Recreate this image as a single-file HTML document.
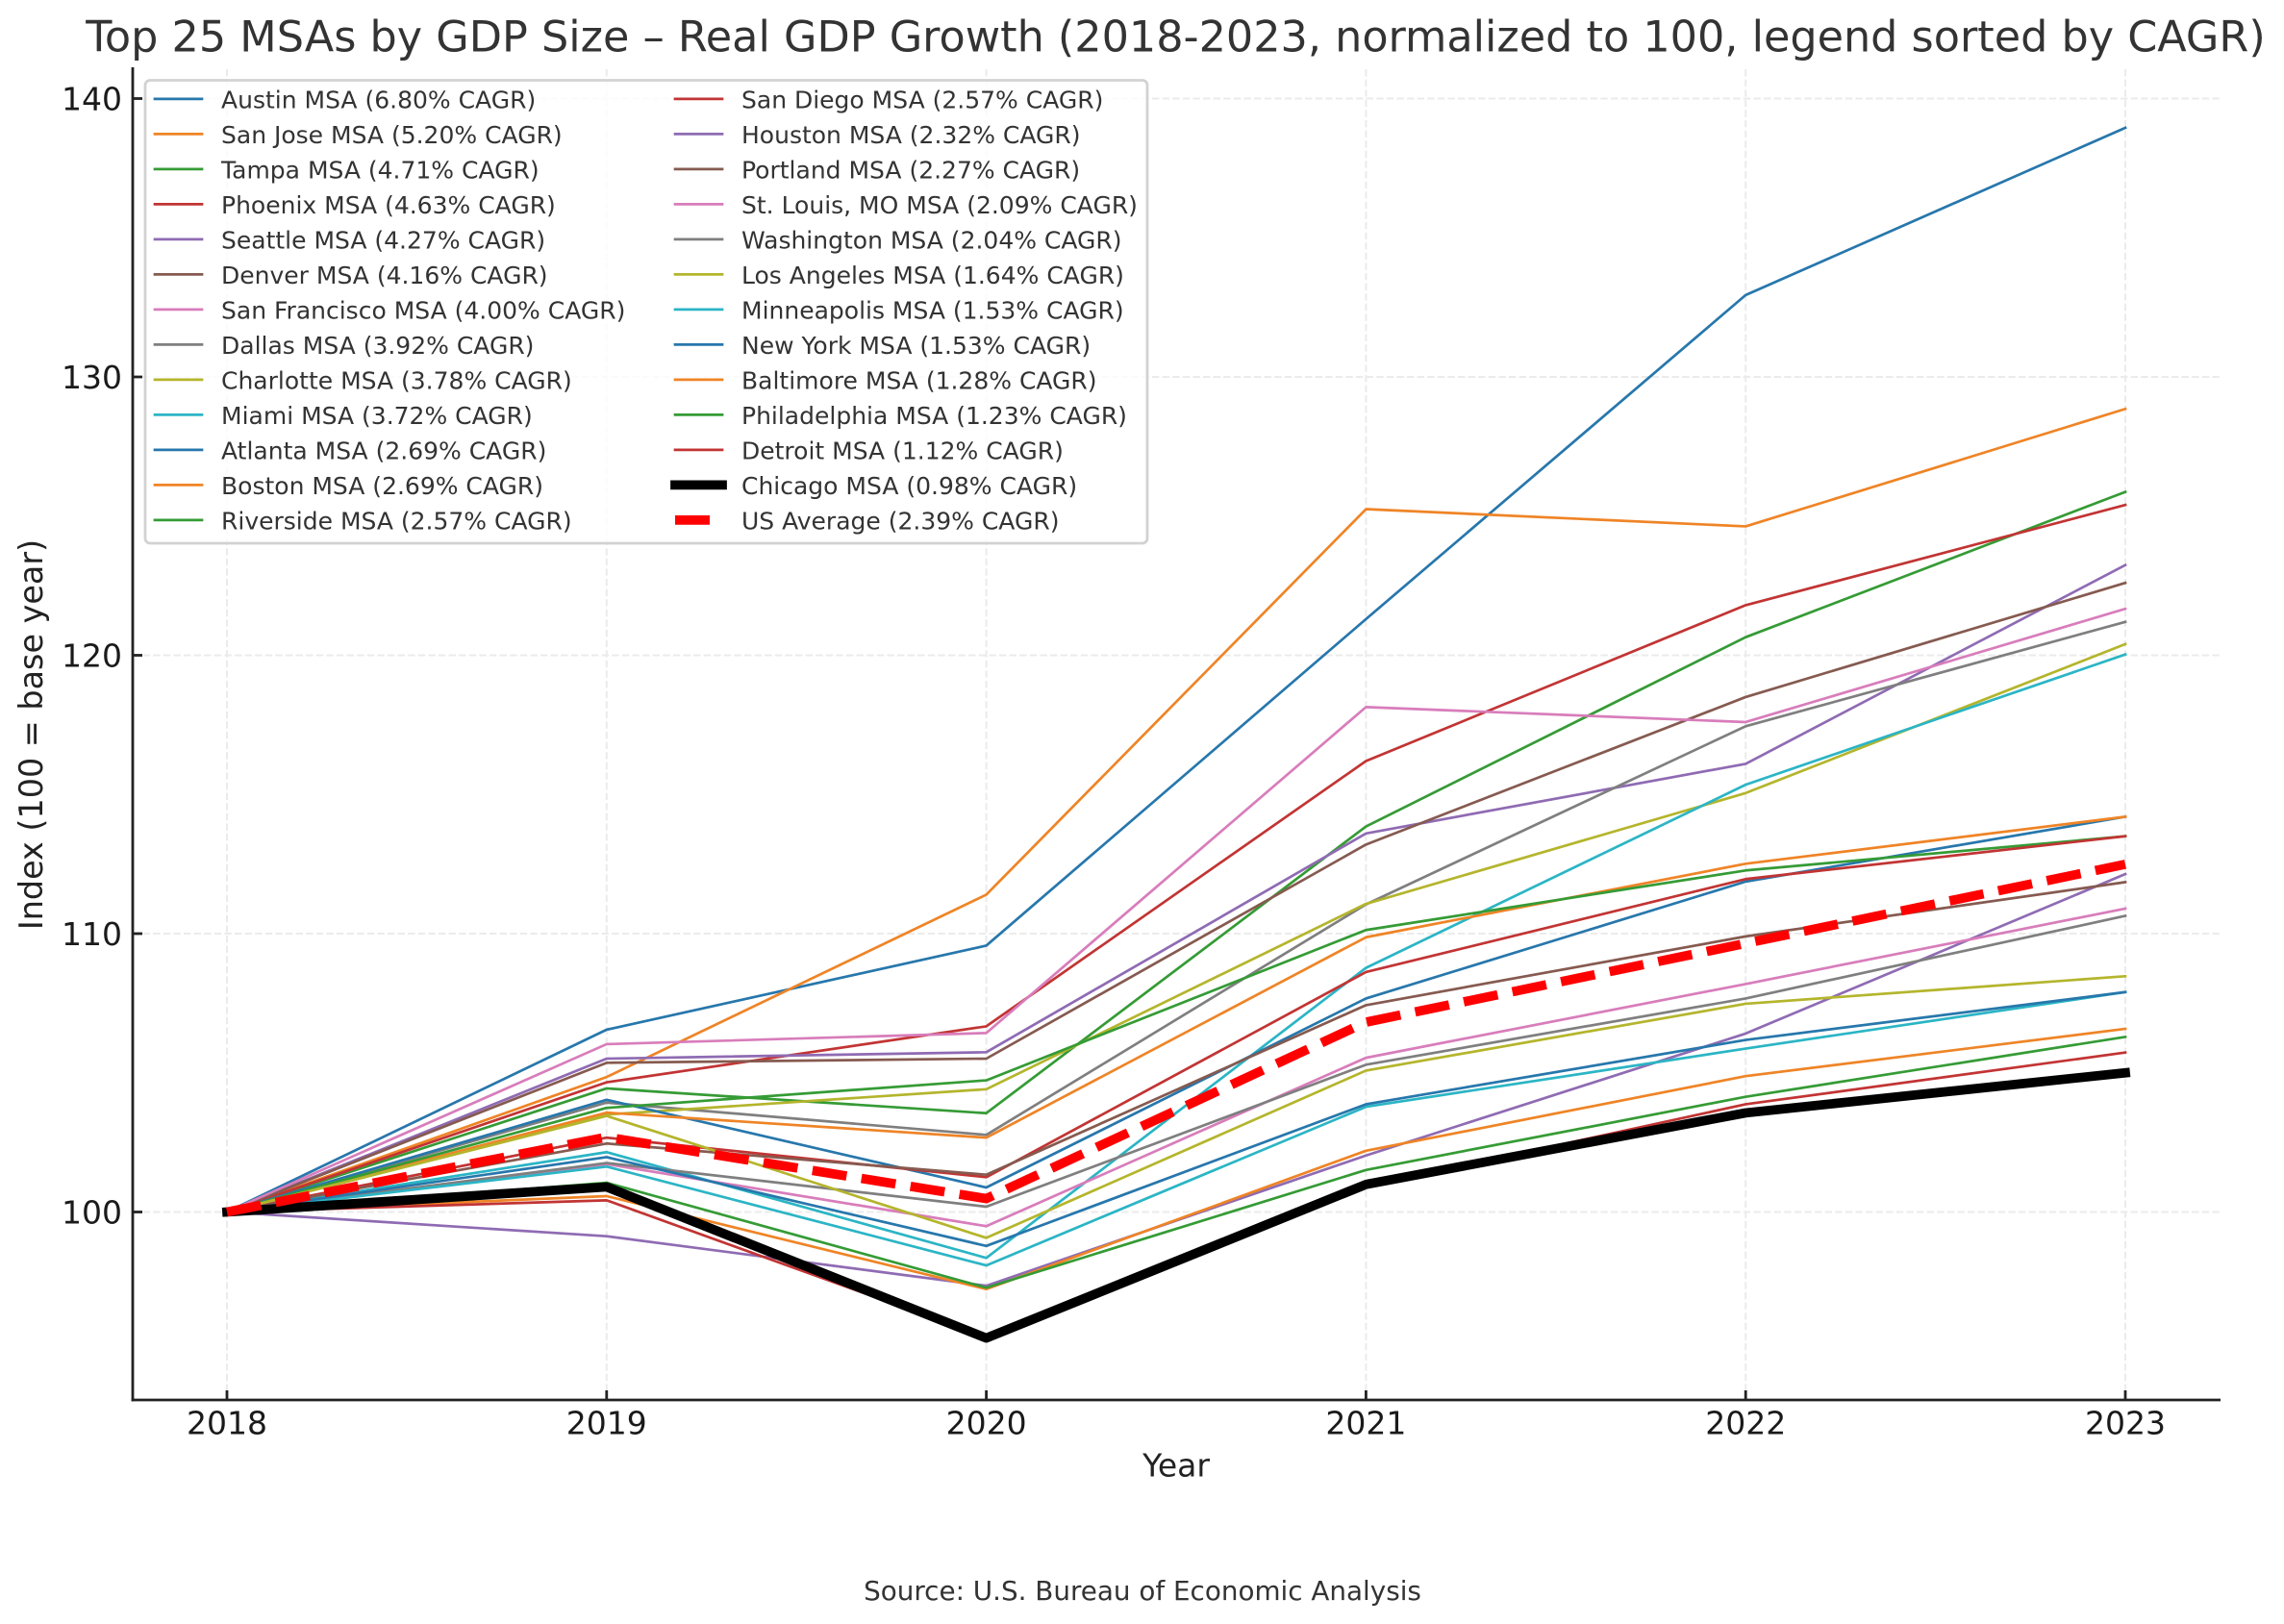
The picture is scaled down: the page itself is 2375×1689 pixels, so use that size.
<!DOCTYPE html>
<html lang="en">
<head>
<meta charset="utf-8">
<title>Top 25 MSAs by GDP Size – Real GDP Growth</title>
<style>
  html, body { margin: 0; padding: 0; background: #fff; }
  body { width: 2375px; height: 1689px; overflow: hidden; }
  svg { display: block; font-family: "DejaVu Sans", "Liberation Sans", sans-serif; }
</style>
</head>
<body>
<svg id="chart" xmlns="http://www.w3.org/2000/svg" width="2375" height="1689" viewBox="0 0 2375 1689">
  <rect x="0" y="0" width="2375" height="1689" fill="#ffffff"/>
  <g id="grid"></g>
  <g id="series"></g>
  <g id="axes"></g>
  <g id="legend"></g>
  <text x="1222.5" y="53.5" font-size="44.5" fill="#333333" text-anchor="middle">Top 25 MSAs by GDP Size – Real GDP Growth (2018-2023, normalized to 100, legend sorted by CAGR)</text>
  <text x="1223" y="1535.5" font-size="33" fill="#222222" text-anchor="middle">Year</text>
  <text x="0" y="0" transform="translate(44 764) rotate(-90)" font-size="33.4" fill="#222222" text-anchor="middle">Index (100 = base year)</text>
  <text x="1188" y="1664" font-size="27.8" fill="#333333" text-anchor="middle">Source: U.S. Bureau of Economic Analysis</text>
</svg>
<script>
// ---- chart data (index values, 2018 = 100) ----
const years = [2018, 2019, 2020, 2021, 2022, 2023];
const yTicks = [100, 110, 120, 130, 140];

const austin      = [100, 106.55, 109.57, 121.3, 132.94, 138.95];
const sanJose     = [100, 104.85, 111.4, 125.25, 124.63, 128.85];
const tampa       = [100, 104.44, 103.55, 113.85, 120.65, 125.87];
const phoenix     = [100, 104.66, 106.67, 116.2, 121.8, 125.4];
const seattle     = [100, 105.51, 105.74, 113.6, 116.1, 123.24];
const denver      = [100, 105.36, 105.51, 113.2, 118.5, 122.6];
const sanFrancisco = [100, 106.03, 106.43, 118.14, 117.6, 121.67];
const dallas      = [100, 103.93, 102.77, 111.05, 117.45, 121.2];
const charlotte   = [100, 103.5, 104.41, 111.07, 115.05, 120.4];
const miami       = [100, 102.15, 98.35, 108.77, 115.35, 120.03];
const atlanta     = [100, 104.03, 100.88, 107.67, 111.87, 114.2];
const boston      = [100, 103.57, 102.67, 109.87, 112.51, 114.2];
const riverside   = [100, 103.74, 104.73, 110.13, 112.27, 113.5];
const sanDiego    = [100, 102.67, 101.25, 108.62, 111.96, 113.5];
const houston     = [100, 99.13, 97.35, 102.03, 106.41, 112.14];
const portland    = [100, 102.46, 101.34, 107.43, 109.9, 111.85];
const stLouis     = [100, 101.72, 99.49, 105.54, 108.19, 110.9];
const washington  = [100, 101.76, 100.19, 105.29, 107.67, 110.64];
const losAngeles  = [100, 103.45, 99.07, 105.08, 107.48, 108.47];
const minneapolis = [100, 101.63, 98.08, 103.78, 105.87, 107.9];
const newYork     = [100, 101.97, 98.78, 103.87, 106.18, 107.9];
const baltimore   = [100, 100.57, 97.23, 102.2, 104.88, 106.58];
const philadelphia = [100, 101.05, 97.28, 101.51, 104.14, 106.29];
const detroit     = [100, 100.42, 95.5, 100.9, 103.87, 105.73];
const chicago     = [100, 100.9, 95.47, 100.99, 103.56, 105.0];
const usAverage   = [100, 102.69, 100.48, 106.82, 109.65, 112.49];

const seriesNames = ["Austin MSA", "San Jose MSA", "Tampa MSA", "Phoenix MSA", "Seattle MSA", "Denver MSA", "San Francisco MSA", "Dallas MSA", "Charlotte MSA", "Miami MSA", "Atlanta MSA", "Boston MSA", "Riverside MSA", "San Diego MSA", "Houston MSA", "Portland MSA", "St. Louis, MO MSA", "Washington MSA", "Los Angeles MSA", "Minneapolis MSA", "New York MSA", "Baltimore MSA", "Philadelphia MSA", "Detroit MSA", "Chicago MSA", "US Average"];
const seriesCagr = ["6.80", "5.20", "4.71", "4.63", "4.27", "4.16", "4.00", "3.92", "3.78", "3.72", "2.69", "2.69", "2.57", "2.57", "2.32", "2.27", "2.09", "2.04", "1.64", "1.53", "1.53", "1.28", "1.23", "1.12", "0.98", "2.39"];
const seriesValues = [austin, sanJose, tampa, phoenix, seattle, denver, sanFrancisco, dallas, charlotte, miami, atlanta, boston, riverside, sanDiego, houston, portland, stLouis, washington, losAngeles, minneapolis, newYork, baltimore, philadelphia, detroit, chicago, usAverage];

// ---- styles ----
const palette = ["#2777ac", "#ef8426", "#359b35", "#c23434", "#8f6bb3", "#865a50", "#d87dbb", "#7f7f7f", "#b4b52c", "#2bb5c5"];
const NS = "http://www.w3.org/2000/svg";
const plot = { left: 138, right: 2309, top: 70, bottom: 1456 };

function xScale(year) { return 236 + (year - 2018) * 394.8; }
function yScale(value) { return 1260.5 - (value - 100) * 28.95; }

function make(parent, tag, attrs) {
  const el = document.createElementNS(NS, tag);
  for (const k in attrs) el.setAttribute(k, attrs[k]);
  parent.appendChild(el);
  return el;
}
function seriesStyle(i) {
  if (seriesNames[i] === "Chicago MSA") return { stroke: "#000000", width: 9.75, dash: null, cap: "square" };
  if (seriesNames[i] === "US Average") return { stroke: "#ff0000", width: 9.75, dash: "36 15.6", cap: "butt" };
  return { stroke: palette[i % 10], width: 2.7, dash: null, cap: "square" };
}
function applyStyle(el, s) {
  el.setAttribute("stroke", s.stroke);
  el.setAttribute("stroke-width", s.width);
  el.setAttribute("stroke-linecap", s.cap);
  el.setAttribute("stroke-linejoin", "round");
  el.setAttribute("fill", "none");
  if (s.dash) el.setAttribute("stroke-dasharray", s.dash);
}
function slug(t) { return t.toLowerCase().replace(/[^a-z0-9]+/g, "-").replace(/-+$/, ""); }

// ---- grid ----
const gridG = document.getElementById("grid");
const gridColor = "#ebebeb";
years.forEach(function (yr) {
  const ln = make(gridG, "line", { x1: xScale(yr), x2: xScale(yr), y1: plot.top + 2, y2: plot.bottom, stroke: gridColor, "stroke-width": 2, "stroke-dasharray": "7.4 3.2" });
  
  
});
yTicks.forEach(function (v) {
  const ln = make(gridG, "line", { x1: plot.left, x2: plot.right, y1: yScale(v), y2: yScale(v), stroke: gridColor, "stroke-width": 2, "stroke-dasharray": "7.4 3.2" });
  
  
});

// ---- series ----
const seriesG = document.getElementById("series");
seriesValues.forEach(function (vals, i) {
  const pts = vals.map(function (v, j) { return xScale(years[j]).toFixed(2) + "," + yScale(v).toFixed(2); }).join(" ");
  const pl = make(seriesG, "polyline", { points: pts });
  applyStyle(pl, seriesStyle(i));
  
  
});

// ---- axes ----
const axesG = document.getElementById("axes");
const spineColor = "#222222";
const spineLeft = make(axesG, "line", { x1: plot.left, x2: plot.left, y1: plot.top, y2: plot.bottom + 1.4, stroke: spineColor, "stroke-width": 2.8 });


const spineBottom = make(axesG, "line", { x1: plot.left - 1.4, x2: plot.right, y1: plot.bottom, y2: plot.bottom, stroke: spineColor, "stroke-width": 2.8 });



years.forEach(function (yr) {
  const tick = make(axesG, "line", { x1: xScale(yr), x2: xScale(yr), y1: plot.bottom - 10, y2: plot.bottom, stroke: spineColor, "stroke-width": 2.8 });
  
  
  const label = make(axesG, "text", { x: xScale(yr), y: 1491.5, "font-size": 33, fill: "#1a1a1a", "text-anchor": "middle" });
  label.textContent = String(yr);
  
  
});
yTicks.forEach(function (v) {
  const tick = make(axesG, "line", { x1: plot.left, x2: plot.left + 10, y1: yScale(v), y2: yScale(v), stroke: spineColor, "stroke-width": 2.8 });
  
  
  const label = make(axesG, "text", { x: 127, y: yScale(v) + 12, "font-size": 33, fill: "#1a1a1a", "text-anchor": "end" });
  label.textContent = String(v);
  
  
});

// ---- legend ----
const legendG = document.getElementById("legend");
const legendBox = make(legendG, "rect", { x: 151, y: 83.5, width: 1042, height: 481.5, rx: 5, ry: 5, fill: "#ffffff", "fill-opacity": 0.8, stroke: "#d2d2d2", "stroke-width": 2.8 });


seriesNames.forEach(function (name, i) {
  const col = i < 13 ? 0 : 1;
  const row = i < 13 ? i : i - 13;
  const y = 102.9 + row * 36.5;
  const x0 = col === 0 ? 161 : 702;
  const entry = make(legendG, "g", {});
  
  
  const handle = make(entry, "line", { x1: x0, x2: x0 + 49, y1: y, y2: y });
  applyStyle(handle, seriesStyle(i));
  
  
  const label = make(entry, "text", { x: col === 0 ? 230 : 771, y: y + 9.6, "font-size": 25, fill: "#333333" });
  label.textContent = name + " (" + seriesCagr[i] + "% CAGR)";
  
  
});
</script>
</body>
</html>
